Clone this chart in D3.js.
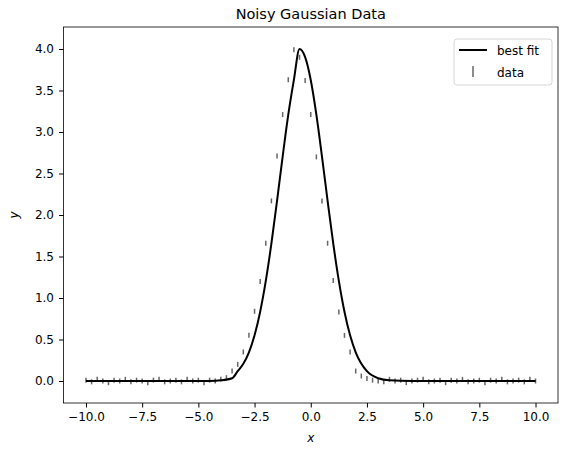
<!DOCTYPE html>
<html><head><meta charset="utf-8">
<script src="https://cdn.jsdelivr.net/npm/d3@7"></script>
<style>body{margin:0;background:#fff}text{font-family:"DejaVu Sans",sans-serif}</style>
</head><body><svg id="c" width="568" height="455"></svg>
<script>
// best-fit curve
var fitX = [-10, -5, -4.5, -4, -3.5, -3.25, -3, -2.75, -2.5, -2.25, -2, -1.75, -1.5, -1.25, -1, -0.75, -0.5,
  -0.25, 0, 0.25, 0.5, 0.75, 1, 1.25, 1.5, 1.75, 2, 2.5, 3, 3.5, 4.5, 10];
var fitY = [0, 0, 0.001, 0.008, 0.033, 0.118, 0.207, 0.346, 0.551, 0.835, 1.206, 1.657, 2.169, 2.704, 3.209, 3.627, 4.0,
  3.903, 3.627, 3.209, 2.704, 2.169, 1.657, 1.206, 0.835, 0.551, 0.346, 0.118, 0.033, 0.008, 0.001, 0];
// noisy data samples
var dataX = d3.range(-10, 10.001, 0.25);
var dataY = [0.01, -0.01, 0.02, 0.0, -0.02, 0.01, 0.0, 0.02, -0.01, 0.01, 0.0, -0.02, 0.01, 0.02, -0.01, 0.0,
  0.01, -0.01, 0.02, 0.0, 0.01, -0.02, 0.01, 0.0, 0.02, 0.04, 0.12, 0.20, 0.35, 0.55, 0.84, 1.20,
  1.66, 2.17, 2.71, 3.21, 3.63, 3.99, 3.90, 3.62, 3.21, 2.70, 2.17, 1.66, 1.21, 0.83, 0.55, 0.35,
  0.12, 0.06, 0.03, 0.01, 0.0, -0.01, 0.02, 0.0, 0.01, -0.02, 0.0, 0.01, 0.02, -0.01, 0.0, 0.01,
  -0.02, 0.01, 0.0, 0.02, -0.01, 0.0, 0.01, -0.02, 0.01, 0.0, 0.02, -0.01, 0.0, 0.01, -0.01, 0.02, 0.0];
var dataErr = 0.03;
var xTicks = [-10, -7.5, -5, -2.5, 0, 2.5, 5, 7.5, 10];
var yTicks = [0, 0.5, 1, 1.5, 2, 2.5, 3, 3.5, 4];

var svg = d3.select('#c');
var L = 63.5, R = 558, T = 27, B = 403;
var x = d3.scaleLinear().domain([-11, 11]).range([L, R]);
var y = d3.scaleLinear().domain([-0.265, 4.265]).range([B, T]);

svg.append('text').attr('x', (L + R) / 2).attr('y', 19).attr('text-anchor', 'middle')
  .attr('font-size', 14.5).text('Noisy Gaussian Data');

var gx = svg.append('g').attr('transform', 'translate(0,' + B + ')')
  .call(d3.axisBottom(x).tickValues(xTicks).tickSize(4.5).tickPadding(5).tickFormat(function(d){ return d3.format('.1f')(d).replace('-', '\u2212'); }));
var gy = svg.append('g').attr('transform', 'translate(' + L + ',0)')
  .call(d3.axisLeft(y).tickValues(yTicks).tickSize(4.5).tickPadding(5).tickFormat(d3.format('.1f')));
[gx, gy].forEach(function(g){
  g.select('.domain').remove();
  g.selectAll('text').attr('font-size', 12).attr('fill', '#000');
  g.selectAll('line').attr('stroke', '#000');
});

// error bars
svg.append('g').selectAll('line').data(dataX).enter().append('line')
  .attr('x1', function(d){ return x(d); }).attr('x2', function(d){ return x(d); })
  .attr('y1', function(d, i){ return y(dataY[i] - dataErr); })
  .attr('y2', function(d, i){ return y(dataY[i] + dataErr); })
  .attr('stroke', '#666').attr('stroke-width', 1.5);

var line = d3.line().x(function(d){ return x(d); }).y(function(d, i){ return y(fitY[i]); }).curve(d3.curveMonotoneX);
svg.append('path').datum(fitX).attr('d', line).attr('fill', 'none').attr('stroke', '#000').attr('stroke-width', 2);

svg.append('rect').attr('x', L).attr('y', T).attr('width', R - L).attr('height', B - T)
  .attr('fill', 'none').attr('stroke', '#000').attr('stroke-width', 0.8);

svg.append('text').attr('x', (L + R) / 2).attr('y', 442).attr('text-anchor', 'middle')
  .attr('font-size', 12).attr('font-style', 'italic').text('x');
svg.append('text').attr('transform', 'translate(18,' + (T + B) / 2 + ') rotate(-90)').attr('text-anchor', 'middle')
  .attr('font-size', 12).attr('font-style', 'italic').text('y');

// legend
var lg = svg.append('g').attr('transform', 'translate(454,39)');
lg.append('rect').attr('width', 98).attr('height', 46).attr('rx', 3).attr('fill', '#fff')
  .attr('stroke', '#ccc').attr('stroke-width', 0.8);
lg.append('line').attr('x1', 5).attr('x2', 33).attr('y1', 11).attr('y2', 11).attr('stroke', '#000').attr('stroke-width', 2);
lg.append('line').attr('x1', 19).attr('x2', 19).attr('y1', 27).attr('y2', 38).attr('stroke', '#666').attr('stroke-width', 1.5);
lg.append('text').attr('x', 43).attr('y', 15.5).attr('font-size', 12).text('best fit');
lg.append('text').attr('x', 43).attr('y', 37.5).attr('font-size', 12).text('data');
</script></body></html>
